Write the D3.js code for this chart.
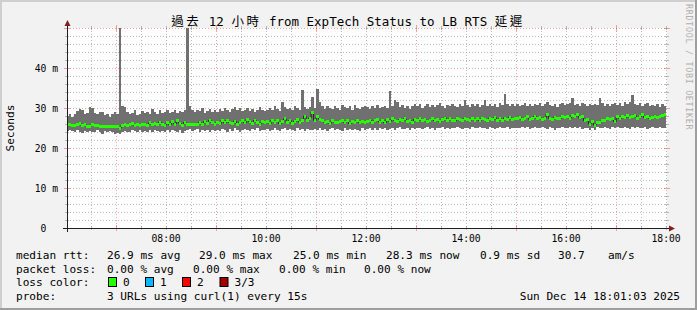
<!DOCTYPE html>
<html>
<head>
<meta charset="utf-8">
<script src="https://cdn.jsdelivr.net/npm/d3@7"></script>
<style>
  body { margin: 0; background: #f2f2f2; }
  svg { display: block; }
  text { font-family: "DejaVu Sans Mono", "Noto Sans CJK TC", monospace; }
</style>
</head>
<body>
<svg width="697" height="310"></svg>
<script>
// smoke top (max of pings), ms, one value per 3 minute bin starting 06:00
const smokeTop = [
  28.0,28.4,27.8,28.6,29.2,29.8,29.4,28.6,28.8,30.3,30.0,28.7,28.5,28.9,29.0,28.2,28.4,27.8,28.6,28.9,
  28.6,52.0,30.4,30.2,29.0,28.4,28.8,29.6,28.2,28.5,29.3,28.7,29.0,28.4,29.8,29.0,28.6,29.4,28.8,29.1,
  29.4,28.8,29.0,29.6,28.7,29.2,28.9,29.5,52.0,30.5,29.4,28.9,29.6,29.2,29.9,28.8,29.3,29.7,29.0,29.4,
  29.0,29.8,29.3,30.1,29.5,29.0,29.7,30.2,29.4,29.9,29.2,29.6,30.0,29.3,29.8,29.1,29.5,30.3,29.6,29.2,
  29.6,30.0,29.4,30.4,29.8,29.3,31.5,30.2,29.7,30.1,29.5,30.6,29.9,29.4,34.5,30.2,29.8,30.3,32.8,30.0,
  34.7,31.5,30.4,29.8,30.6,30.1,29.7,30.5,30.0,29.6,30.8,30.2,29.9,30.4,29.5,30.7,30.0,29.8,30.3,30.6,
  30.2,29.7,30.5,30.0,30.8,29.9,30.3,30.6,30.1,34.2,30.4,32.0,31.6,30.2,30.7,30.0,30.5,29.8,30.4,30.9,
  30.4,30.9,30.1,30.6,31.0,30.3,30.8,30.2,30.7,31.2,30.5,30.0,30.8,30.4,31.1,30.6,30.2,30.9,30.5,32.0,
  30.8,30.3,31.0,30.5,30.9,30.2,30.7,32.0,30.4,31.1,30.6,30.9,30.3,31.2,30.7,33.5,30.9,30.4,31.0,30.6,
  31.0,30.5,30.8,31.2,30.6,30.9,30.4,31.1,30.7,31.3,30.5,30.9,31.4,30.8,30.6,31.0,30.3,30.9,31.2,30.7,
  30.9,31.2,32.5,30.8,31.0,30.6,31.3,30.9,30.5,31.1,30.7,31.0,30.8,32.5,31.2,30.6,31.0,30.4,30.9,31.3,
  30.8,31.2,30.6,31.4,30.9,31.6,33.2,31.0,30.7,31.3,30.5,30.9,31.2,30.4,30.8,30.6,31.0,30.3,30.9,30.5
];
// median rtt, ms
const medianRtt = [
  25.8,25.9,25.6,25.7,25.9,26.1,25.6,25.8,25.4,25.5,25.9,25.7,25.6,25.5,25.5,25.4,25.4,25.4,25.5,25.4,
  25.3,25.0,25.6,25.9,25.6,25.8,26.1,25.7,25.9,25.6,25.8,26.0,25.7,26.3,25.8,26.2,25.9,26.5,26.0,25.7,
  26.3,25.8,26.6,26.0,26.8,26.2,25.7,26.4,26.0,25.8,25.9,25.9,26.0,26.4,25.8,26.6,26.1,26.9,26.3,26.0,
  26.5,26.1,26.9,26.3,27.0,26.4,26.2,26.7,26.0,26.5,26.8,26.3,27.2,26.6,26.2,26.9,26.4,26.0,26.6,26.3,
  26.7,26.2,27.0,26.5,26.8,26.1,26.6,27.3,26.4,26.9,26.2,26.7,27.1,26.5,26.8,28.0,27.0,27.5,29.0,26.9,
  27.8,27.2,26.8,26.4,26.6,26.2,26.9,26.5,26.3,26.7,27.0,26.4,26.8,26.1,26.6,26.5,26.9,26.3,26.7,26.4,
  26.6,27.0,26.4,26.8,27.1,26.5,26.9,26.3,27.2,26.7,27.4,26.9,26.6,27.1,26.8,27.3,26.7,27.0,26.5,27.2,
  26.9,27.3,26.8,27.1,26.6,27.0,27.4,26.8,27.2,26.7,27.1,27.5,26.9,27.3,27.0,26.8,27.4,27.1,26.9,27.3,
  27.2,26.9,27.4,27.0,27.3,26.8,27.5,27.1,26.9,27.4,27.2,27.6,27.0,27.3,26.9,27.5,27.2,27.7,27.1,27.4,
  27.3,27.6,27.1,27.5,27.8,27.2,27.4,27.9,27.3,27.6,27.1,27.5,28.5,27.4,27.2,27.7,27.5,27.3,27.8,27.6,
  27.8,27.5,28.2,27.9,28.4,27.6,28.0,26.8,27.2,26.0,26.6,25.7,26.3,26.5,26.9,27.0,27.3,27.1,27.5,26.6,
  27.8,27.4,27.9,27.6,28.1,27.7,27.9,28.2,27.5,27.8,28.3,27.6,27.9,27.4,27.7,28.0,27.6,27.8,28.1,28.3
];
// smoke bottom (min of pings), ms
const smokeBottom = [
  24.3,24.5,24.2,24.0,24.4,24.1,23.8,24.3,24.0,24.2,23.9,24.1,24.4,24.0,23.6,24.2,23.9,24.3,24.1,23.4,
  23.8,23.5,24.1,24.3,24.0,23.9,24.4,24.2,24.1,24.5,24.0,24.3,23.9,24.4,24.1,24.6,24.2,23.9,24.3,24.0,
  24.5,24.1,24.6,24.2,24.0,24.4,23.8,24.3,24.5,24.7,24.2,24.4,24.8,24.1,24.5,24.3,24.6,24.0,24.4,24.2,
  24.6,24.2,24.8,24.4,24.0,24.7,24.3,24.9,24.5,24.1,24.6,24.8,24.4,24.2,24.7,24.5,24.9,24.3,24.6,24.4,
  24.8,24.3,24.6,24.9,24.5,24.2,24.7,25.0,24.4,24.8,24.6,24.3,24.9,24.5,24.7,24.2,24.8,24.6,24.4,24.7,
  24.6,24.9,24.5,24.8,24.3,24.7,25.0,24.4,24.8,24.6,24.2,24.9,24.5,24.7,24.4,24.8,24.6,24.3,24.9,24.5,
  24.8,25.0,24.6,24.9,24.5,25.1,24.7,24.9,24.4,24.8,25.0,24.6,24.9,25.2,24.7,24.8,25.0,24.5,24.9,24.7,
  24.9,25.1,24.7,25.0,25.2,24.8,25.0,24.6,25.1,24.9,25.2,24.8,25.0,24.7,25.1,24.9,25.3,25.0,24.8,25.1,
  25.0,24.8,25.2,24.9,25.1,25.3,24.9,25.0,24.7,25.2,25.0,24.8,25.1,25.3,24.9,25.0,25.2,24.8,25.1,24.9,
  25.1,24.9,25.2,25.0,25.3,24.8,25.1,25.2,24.9,25.0,25.3,25.1,24.8,25.2,25.0,24.6,25.1,24.9,25.2,25.0,
  25.1,25.3,24.9,25.2,25.0,25.3,24.8,25.1,24.9,24.5,25.0,24.6,25.2,24.9,25.1,25.3,25.0,24.8,25.2,25.0,
  25.2,24.9,25.1,25.3,25.0,24.8,25.2,25.0,25.3,24.9,25.1,25.2,24.8,25.0,25.3,25.1,24.9,25.2,25.0,25.1
];

const yTicks = [0, 10, 20, 30, 40];
const yTickLabels = ["0\u00a0\u00a0", "10 m", "20 m", "30 m", "40 m"];
const xLabelHours = [8, 10, 12, 14, 16, 18];

const titleText = "過去 12 小時 from ExpTech Status to LB RTS 延遲";
const legendRows = [
  [["median rtt:", 16], ["26.9 ms avg", 107], ["29.0 ms max", 199], ["25.0 ms min", 293], ["28.3 ms now", 386], ["0.9 ms sd", 480], ["30.7", 558], ["am/s", 608]],
  [["packet loss:", 16], ["0.00 % avg", 107], ["0.00 % max", 193], ["0.00 % min", 279], ["0.00 % now", 364]],
  [["loss color:", 16]],
  [["probe:", 16], ["3 URLs using curl(1) every 15s", 107]]
];
const lossNames = ["0", "1", "2", "3/3"];
const lossColors = ["#26ff00", "#00b8ff", "#ff0000", "#a00000"];

const svg = d3.select("svg");
const W = 697, H = 310;
const pLeft = 67, pRight = 667, pTop = 28, pBottom = 228;

// background + bevel
svg.append("rect").attr("width", W).attr("height", H).attr("fill", "#f2f2f2");
svg.append("rect").attr("x", 0).attr("y", 0).attr("width", W).attr("height", 2).attr("fill", "#cfcfcf");
svg.append("rect").attr("x", 0).attr("y", 0).attr("width", 2).attr("height", H).attr("fill", "#cfcfcf");
svg.append("rect").attr("x", 0).attr("y", H - 2).attr("width", W).attr("height", 2).attr("fill", "#9e9e9e");
svg.append("rect").attr("x", W - 2).attr("y", 0).attr("width", 2).attr("height", H).attr("fill", "#9e9e9e");

svg.append("rect").attr("x", pLeft).attr("y", pTop).attr("width", pRight - pLeft).attr("height", pBottom - pTop).attr("fill", "#fff");

const t0 = new Date(2025, 11, 14, 6, 1, 3);
const t1 = new Date(2025, 11, 14, 18, 1, 3);
const x = d3.scaleTime().domain([t0, t1]).range([pLeft, pRight]);
const y = d3.scaleLinear().domain([0, 50]).range([pBottom, pTop]);

const binStart0 = new Date(2025, 11, 14, 6, 0, 0);
const bins = medianRtt.map((m, i) => ({
  s: d3.timeMinute.offset(binStart0, 3 * i),
  e: d3.timeMinute.offset(binStart0, 3 * (i + 1)),
  top: smokeTop[i], med: m, bot: smokeBottom[i]
}));

// grid
const minorColor = "rgba(143,143,143,0.6)";
const majorColor = "rgba(222,79,79,0.5)";
const dash = "1,2";
const grid = svg.append("g");
d3.range(2, 51, 2).filter(v => v % 10 !== 0).forEach(v => {
  grid.append("line").attr("x1", pLeft).attr("x2", pRight).attr("y1", y(v) + 0.5).attr("y2", y(v) + 0.5)
    .attr("stroke", minorColor).attr("stroke-dasharray", dash);
  grid.append("line").attr("x1", pLeft - 2).attr("x2", pLeft + 2).attr("y1", y(v) + 0.5).attr("y2", y(v) + 0.5)
    .attr("stroke", minorColor);
  grid.append("line").attr("x1", pRight - 2).attr("x2", pRight + 2).attr("y1", y(v) + 0.5).attr("y2", y(v) + 0.5)
    .attr("stroke", minorColor);
});
x.ticks(d3.timeMinute.every(30)).filter(d => !(d.getMinutes() === 0 && d.getHours() % 2 === 1)).forEach(d => {
  const xx = Math.round(x(d)) + 0.5;
  grid.append("line").attr("x1", xx).attr("x2", xx).attr("y1", pTop).attr("y2", pBottom)
    .attr("stroke", minorColor).attr("stroke-dasharray", dash);
  grid.append("line").attr("x1", xx).attr("x2", xx).attr("y1", pBottom - 2).attr("y2", pBottom + 2)
    .attr("stroke", minorColor);
  grid.append("line").attr("x1", xx).attr("x2", xx).attr("y1", pTop - 2).attr("y2", pTop + 2)
    .attr("stroke", minorColor);
});
[10, 20, 30, 40, 50].forEach(v => {
  grid.append("line").attr("x1", pLeft).attr("x2", pRight).attr("y1", y(v) + 0.5).attr("y2", y(v) + 0.5)
    .attr("stroke", majorColor).attr("stroke-dasharray", dash);
  grid.append("line").attr("x1", pLeft - 3).attr("x2", pLeft + 3).attr("y1", y(v) + 0.5).attr("y2", y(v) + 0.5)
    .attr("stroke", majorColor);
  grid.append("line").attr("x1", pRight - 3).attr("x2", pRight + 3).attr("y1", y(v) + 0.5).attr("y2", y(v) + 0.5)
    .attr("stroke", majorColor);
});
x.ticks(d3.timeHour.every(1)).filter(d => d.getHours() % 2 === 1).forEach(d => {
  const xx = Math.round(x(d)) + 0.5;
  grid.append("line").attr("x1", xx).attr("x2", xx).attr("y1", pTop).attr("y2", pBottom)
    .attr("stroke", majorColor).attr("stroke-dasharray", dash);
  grid.append("line").attr("x1", xx).attr("x2", xx).attr("y1", pBottom - 3).attr("y2", pBottom + 3)
    .attr("stroke", majorColor);
  grid.append("line").attr("x1", xx).attr("x2", xx).attr("y1", pTop - 3).attr("y2", pTop + 3)
    .attr("stroke", majorColor);
});

// data
svg.append("clipPath").attr("id", "plot").append("rect")
  .attr("x", pLeft + 1).attr("y", pTop).attr("width", pRight - pLeft - 1).attr("height", pBottom - pTop);
const plot = svg.append("g").attr("clip-path", "url(#plot)");

plot.selectAll(".smoke").data(bins).join("rect")
  .attr("x", d => x(d.s)).attr("width", d => x(d.e) - x(d.s))
  .attr("y", d => y(d.top)).attr("height", d => y(d.bot) - y(d.top))
  .attr("fill", "#707070").attr("shape-rendering", "crispEdges");

const stepPts = bins.map(d => [x(d.s), y(d.med)]);
stepPts.push([x(bins[bins.length - 1].e), y(bins[bins.length - 1].med)]);
plot.append("path").attr("d", d3.line().curve(d3.curveStepAfter)(stepPts))
  .attr("fill", "none").attr("stroke", "#202020").attr("stroke-width", 1);

plot.selectAll(".med").data(bins).join("rect")
  .attr("x", d => x(d.s)).attr("width", d => x(d.e) - x(d.s))
  .attr("y", d => y(d.med) - 1.5).attr("height", 3)
  .attr("fill", lossColors[0]).attr("shape-rendering", "crispEdges");

// axes
const axisColor = "#1f1f1f", arrowColor = "#801f1f";
svg.append("line").attr("x1", pLeft + 0.5).attr("x2", pLeft + 0.5).attr("y1", pBottom + 4).attr("y2", pTop - 4)
  .attr("stroke", axisColor);
svg.append("line").attr("x1", pLeft - 4).attr("x2", pRight + 4).attr("y1", pBottom + 0.5).attr("y2", pBottom + 0.5)
  .attr("stroke", axisColor);
svg.append("path").attr("d", `M${pLeft + 0.5},${pTop - 8} L${pLeft - 2.5},${pTop - 2} L${pLeft + 3.5},${pTop - 2} Z`)
  .attr("fill", arrowColor);
svg.append("path").attr("d", `M${pRight + 8},${pBottom + 0.5} L${pRight + 2},${pBottom - 2.5} L${pRight + 2},${pBottom + 3.5} Z`)
  .attr("fill", arrowColor);

// y labels
svg.selectAll(".ylab").data(yTicks).join("text")
  .attr("x", 58).attr("y", d => y(d) + 3.5).attr("text-anchor", "end")
  .attr("font-size", "9.7px").attr("fill", "#000")
  .text((d, i) => yTickLabels[i]);

// x labels
svg.selectAll(".xlab").data(xLabelHours).join("text")
  .attr("x", h => x(new Date(2025, 11, 14, h, 0, 0))).attr("y", 242)
  .attr("text-anchor", "middle").attr("font-size", "9.7px").attr("fill", "#000")
  .text(h => d3.timeFormat("%H:%M")(new Date(2025, 11, 14, h, 0, 0)));

// unit label
svg.append("text").attr("transform", "translate(14,128) rotate(-90)")
  .attr("text-anchor", "middle").attr("font-size", "11.1px").text("Seconds");

// title, CJK runs get double-width cells like the rrdtool rendering
const title = svg.append("text").attr("x", 348).attr("y", 26).attr("text-anchor", "middle")
  .attr("font-size", "12.5px");
titleText.match(/[\u3000-\u9fff]+|[^\u3000-\u9fff]+/g).forEach(part => {
  const cjk = /[\u3000-\u9fff]/.test(part);
  title.append("tspan").attr("letter-spacing", cjk ? "2.5px" : null).text(part);
});

// watermark
svg.append("text").attr("transform", "translate(686,4) rotate(90)")
  .attr("font-size", "8.4px").attr("letter-spacing", "0.7px").attr("fill", "#b0b0b0").text("RRDTOOL / TOBI OETIKER");

// legend
const rowY = [259, 272.5, 286, 300];
legendRows.forEach((row, r) => {
  row.forEach(([txt, xx]) => {
    svg.append("text").attr("x", xx).attr("y", rowY[r]).attr("font-size", "11.1px")
      .style("white-space", "pre").text(txt);
  });
});
const boxX = [108, 145, 182, 219.5];
lossNames.forEach((n, i) => {
  svg.append("rect").attr("x", boxX[i] + 0.5).attr("y", rowY[2] - 8.5).attr("width", 8).attr("height", 9)
    .attr("fill", lossColors[i]).attr("stroke", "#000");
  svg.append("text").attr("x", boxX[i] + 15).attr("y", rowY[2]).attr("font-size", "11.1px").text(n);
});
svg.append("text").attr("x", 680).attr("y", rowY[3]).attr("text-anchor", "end")
  .attr("font-size", "11.1px").text("Sun Dec 14 18:01:03 2025");
</script>
</body>
</html>
